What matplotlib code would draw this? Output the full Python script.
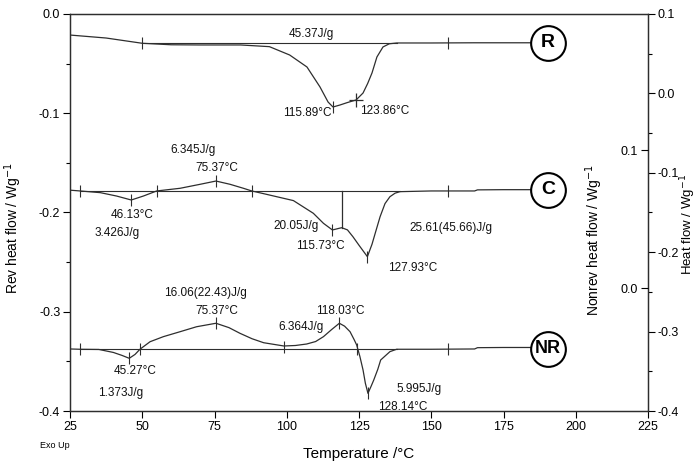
import matplotlib
matplotlib.use("Agg")
import matplotlib.pyplot as plt
from matplotlib.ticker import MultipleLocator, FixedLocator

plt.rcParams['font.family'] = ['Liberation Sans', 'DejaVu Sans']

# --- data (temperature in C, rev heat flow in W/g) ---
r_temp = [25, 37.5, 50, 60, 70, 84, 94, 101, 107, 111.5, 114.3, 116, 118.4, 121, 124,
          126.4, 128, 129.5, 131.2, 133.3, 135.5, 138.1, 150, 165, 185]
r_flow = [-0.0212, -0.0242, -0.0295, -0.031, -0.0312, -0.0312, -0.0329, -0.0413, -0.0534,
          -0.0735, -0.0887, -0.0937, -0.0917, -0.0892, -0.0866, -0.0796, -0.070, -0.0594,
          -0.0433, -0.0332, -0.0300, -0.0292, -0.0292, -0.0290, -0.0290]

c_temp = [25, 28.5, 35.5, 41.1, 46.2, 50.4, 55, 63.1, 70, 75.5, 80.4, 85, 87.9, 93, 102.3,
          109.2, 112.7, 115.8, 119, 121, 122.9, 125, 127.9, 129.5, 130.5, 132.3, 134,
          135.7, 137.5, 139.2, 150, 165, 166, 175, 185]
c_flow = [-0.1775, -0.1783, -0.180, -0.1834, -0.1874, -0.1834, -0.1783, -0.1756, -0.1716,
          -0.1683, -0.1716, -0.1756, -0.1783, -0.1817, -0.188, -0.2008, -0.2109, -0.2176,
          -0.2153, -0.2175, -0.2244, -0.233, -0.2445, -0.232, -0.222, -0.2042, -0.191,
          -0.1841, -0.1805, -0.179, -0.1783, -0.1783, -0.1772, -0.1770, -0.1770]

nr_temp = [25, 28.5, 35, 40, 43, 45.5, 47.5, 49.2, 52.7, 57.3, 63.1, 68.8, 75.5, 80, 83.8,
           88, 92, 99, 103, 106.9, 110, 112.7, 115.5, 118.2, 120, 121.9, 123.3, 124.2,
           125.3, 126.4, 127.2, 128.1, 129.2, 130.1, 131.5, 132.5, 135.7, 138, 150, 165,
           166, 175, 185]
nr_flow = [-0.3375, -0.3378, -0.338, -0.341, -0.344, -0.3469, -0.343, -0.3378, -0.3302,
           -0.3251, -0.3201, -0.3151, -0.3116, -0.316, -0.3217, -0.3272, -0.3312, -0.3345,
           -0.334, -0.3325, -0.330, -0.3251, -0.318, -0.3116, -0.3145, -0.3201, -0.328,
           -0.3335, -0.345, -0.3587, -0.372, -0.3822, -0.375, -0.3688, -0.358, -0.3486,
           -0.3402, -0.3378, -0.3378, -0.3375, -0.3362, -0.336, -0.336]

# integration baselines (start T, end T, level)
baselines = [(50, 138.1, -0.0294), (28.5, 139.2, -0.1783), (28.5, 138, -0.3378)]

# event ticks on the curves
r_ticks_t = [50, 115.89, 155.8]
r_ticks_v = [-0.0295, -0.0937, -0.0292]
c_ticks_t = [28.5, 46.13, 55, 75.37, 87.9, 115.73, 127.93, 155.8]
c_ticks_v = [-0.1783, -0.1874, -0.1783, -0.1683, -0.1783, -0.2176, -0.2445, -0.1783]
nr_ticks_t = [28.5, 45.27, 49.2, 75.37, 99, 118.03, 124.4, 128.14, 155.9]
nr_ticks_v = [-0.3378, -0.3469, -0.3378, -0.3116, -0.3355, -0.3116, -0.3378, -0.3822, -0.3378]

# vertical split line in the C melt
c_split_t = 119
c_split_v = (-0.1783, -0.2153)

# annotations (text, T, value)
labels = [
    ("45.37J/g", 108.4, -0.0202),
    ("115.89°C", 107.0, -0.0998),
    ("123.86°C", 134.0, -0.0977),
    ("6.345J/g", 67.6, -0.137),
    ("75.37°C", 75.9, -0.155),
    ("46.13°C", 46.5, -0.2025),
    ("3.426J/g", 41.3, -0.2207),
    ("20.05J/g", 103.2, -0.2136),
    ("115.73°C", 111.5, -0.2338),
    ("25.61(45.66)J/g", 156.8, -0.2156),
    ("127.93°C", 143.7, -0.2559),
    ("16.06(22.43)J/g", 72.0, -0.2811),
    ("75.37°C", 75.9, -0.2992),
    ("118.03°C", 118.4, -0.2992),
    ("6.364J/g", 104.9, -0.3154),
    ("45.27°C", 47.5, -0.3597),
    ("1.373J/g", 42.6, -0.3819),
    ("5.995J/g", 145.8, -0.3778),
    ("128.14°C", 140.2, -0.396),
]

tags = ["R", "C", "NR"]
tag_t = [190.4, 190.4, 190.4]
tag_v = [-0.0292, -0.1772, -0.3375]
tag_size = [14, 14, 13]

col = '#2e2e2e'
fmt = plt.FuncFormatter(lambda v, p: f"{v:.1f}".replace('-0.0', '0.0'))

fig = plt.figure(figsize=(6.98, 4.65), dpi=100)
ax = fig.add_axes([70/698, 1 - 411/465, 578/698, 397/465])

ax.plot(r_temp, r_flow, color=col, lw=0.9)
ax.plot(c_temp, c_flow, color=col, lw=0.9)
ax.plot(nr_temp, nr_flow, color=col, lw=0.9)
for t0, t1, lev in baselines:
    ax.plot([t0, t1], [lev, lev], color=col, lw=0.8)
ax.plot([c_split_t, c_split_t], c_split_v, color=col, lw=0.9)

for tt, vv in [(r_ticks_t, r_ticks_v), (c_ticks_t, c_ticks_v), (nr_ticks_t, nr_ticks_v)]:
    ax.plot(tt, vv, ls='none', marker='|', ms=9, mew=0.8, color=col)
ax.plot([123.86], [-0.0866], ls='none', marker='+', ms=10, mew=0.9, color=col)

for s, t, v in labels:
    ax.text(t, v, s, ha='center', va='center', fontsize=8.5, color='#111111')

# circled sample tags
ax.plot(tag_t, tag_v, ls='none', marker='o', ms=25, mfc='white', mec='black', mew=1.5, zorder=4)
for s, t, v, fs in zip(tags, tag_t, tag_v, tag_size):
    ax.text(t, v, s, ha='center', va='center', fontsize=fs, fontweight='bold', zorder=5)

ax.set_xlim(25, 225)
ax.set_ylim(-0.4, 0.0)
ax.xaxis.set_major_locator(MultipleLocator(25))
ax.yaxis.set_major_locator(MultipleLocator(0.1))
ax.yaxis.set_minor_locator(MultipleLocator(0.05))
ax.yaxis.set_major_formatter(fmt)
ax.tick_params(axis='both', direction='out', length=5, width=0.8, labelsize=9, pad=2)
ax.tick_params(axis='y', which='minor', length=3, width=0.8)
ax.set_ylabel("Rev heat flow / Wg$^{-1}$", fontsize=10)
ax.yaxis.set_label_coords(-0.08, 0.46)
ax.set_xlabel("Temperature /°C", fontsize=11)
ax.xaxis.set_label_coords(0.5, -0.09)
for sp in ax.spines.values():
    sp.set_linewidth(0.9)
    sp.set_color(col)

# outer right axis: total heat flow
ax2 = ax.twinx()
ax2.set_ylim(-0.4, 0.1)
ax2.yaxis.set_major_locator(MultipleLocator(0.1))
ax2.yaxis.set_minor_locator(MultipleLocator(0.05))
ax2.yaxis.set_major_formatter(fmt)
ax2.tick_params(axis='y', direction='out', length=5, width=0.8, labelsize=9, pad=2)
ax2.tick_params(axis='y', which='minor', length=3, width=0.8)
ax2.set_ylabel("Heat flow / Wg$^{-1}$", fontsize=9.5)
ax2.yaxis.set_label_coords(1.053, 0.47)
for sp in ax2.spines.values():
    sp.set_linewidth(0.9)
    sp.set_color(col)

# inner right axis: non-reversing heat flow, ticks pointing into the plot
ax3 = ax.twinx()
ax3.set_ylim(-0.089, 0.199)
ax3.yaxis.set_major_locator(FixedLocator([0.0, 0.1]))
ax3.yaxis.set_major_formatter(plt.FuncFormatter(lambda v, p: f"{v:.1f}"))
ax3.yaxis.set_ticks_position('left')
ax3.yaxis.set_label_position('left')
ax3.spines['left'].set_position(('axes', 1.0))
for k in ['left', 'top', 'bottom', 'right']:
    ax3.spines[k].set_visible(False)
ax3.tick_params(axis='y', direction='out', length=5, width=0.8, labelsize=9, pad=2)
ax3.set_ylabel("Nonrev heat flow / Wg$^{-1}$", fontsize=10)
ax3.yaxis.set_label_coords(0.925, 0.43)

fig.text(40/698, 1 - 445/465, "Exo Up", fontsize=6.5, ha='left', va='center')

fig.savefig("out.png", dpi=100)
